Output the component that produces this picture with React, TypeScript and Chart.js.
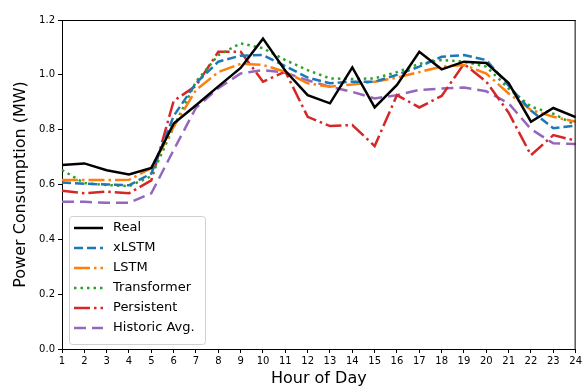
import React, { useEffect, useRef } from "react";
import { Chart, registerables } from "chart.js";

Chart.register(...registerables);

const hours = ["1","2","3","4","5","6","7","8","9","10","11","12","13","14","15","16","17","18","19","20","21","22","23","24"];

const real = [0.671, 0.677, 0.652, 0.637, 0.660, 0.822, 0.889, 0.958, 1.025, 1.132, 1.015, 0.926, 0.896, 1.027, 0.881, 0.963, 1.084, 1.020, 1.048, 1.043, 0.970, 0.829, 0.879, 0.846];
const xlstm = [0.607, 0.603, 0.600, 0.597, 0.640, 0.850, 0.970, 1.048, 1.070, 1.072, 1.032, 0.990, 0.969, 0.975, 0.975, 1.000, 1.030, 1.066, 1.072, 1.054, 0.960, 0.870, 0.805, 0.815];
const lstm = [0.616, 0.616, 0.616, 0.617, 0.660, 0.810, 0.945, 1.010, 1.040, 1.036, 1.011, 0.969, 0.957, 0.965, 0.975, 0.990, 1.010, 1.030, 1.036, 1.005, 0.932, 0.872, 0.847, 0.829];
const transformer = [0.653, 0.605, 0.598, 0.594, 0.630, 0.810, 0.975, 1.072, 1.115, 1.097, 1.054, 1.017, 0.987, 0.985, 0.987, 1.010, 1.040, 1.054, 1.048, 1.030, 0.950, 0.884, 0.858, 0.817];
const persistent = [0.577, 0.568, 0.574, 0.568, 0.615, 0.905, 0.960, 1.084, 1.084, 0.975, 1.012, 0.847, 0.813, 0.817, 0.740, 0.926, 0.881, 0.923, 1.040, 0.975, 0.862, 0.707, 0.780, 0.760];
const historic = [0.537, 0.537, 0.533, 0.533, 0.568, 0.726, 0.880, 0.951, 1.005, 1.017, 1.008, 0.980, 0.957, 0.938, 0.914, 0.926, 0.945, 0.950, 0.954, 0.940, 0.896, 0.802, 0.750, 0.748];

const seriesLabels = ["Real", "xLSTM", "LSTM", "Transformer", "Persistent", "Historic Avg."];
const yTicks = [0, 0.2, 0.4, 0.6, 0.8, 1.0, 1.2];

const FONT = "'DejaVu Sans', sans-serif";

const framePlugin = {
  id: "frame",
  afterDatasetsDraw(chart: any) {
    const { ctx, chartArea } = chart;
    ctx.save();
    ctx.strokeStyle = "#000";
    ctx.lineWidth = 1;
    ctx.beginPath();
    ctx.moveTo(chartArea.left, chartArea.top + 0.5);
    ctx.lineTo(chartArea.right, chartArea.top + 0.5);
    ctx.moveTo(chartArea.right - 0.5, chartArea.top);
    ctx.lineTo(chartArea.right - 0.5, chartArea.bottom);
    ctx.stroke();
    ctx.restore();
  },
};

const legendPlugin = {
  id: "insideLegend",
  afterDraw(chart: any) {
    const { ctx, chartArea } = chart;
    const ds = chart.data.datasets;
    const x0 = chartArea.left + 7;
    const y0 = 216;
    const w = 136;
    const rowH = 20;
    const h = 128;
    ctx.save();
    ctx.globalAlpha = 0.8;
    ctx.fillStyle = "#fff";
    ctx.beginPath();
    (ctx as any).roundRect(x0 + 0.5, y0 + 0.5, w, h, 3);
    ctx.fill();
    ctx.globalAlpha = 1;
    ctx.strokeStyle = "#d0d0d0";
    ctx.lineWidth = 1;
    ctx.stroke();
    ds.forEach((d: any, i: number) => {
      const cy = y0 + 12 + i * rowH;
      ctx.beginPath();
      ctx.setLineDash(d.borderDash || []);
      ctx.strokeStyle = d.borderColor;
      ctx.lineWidth = d.borderWidth;
      ctx.lineCap = "butt";
      ctx.moveTo(x0 + 5, cy);
      ctx.lineTo(x0 + 34, cy);
      ctx.stroke();
      ctx.setLineDash([]);
      ctx.fillStyle = "#000";
      ctx.font = `13px ${FONT}`;
      ctx.textBaseline = "middle";
      ctx.textAlign = "left";
      ctx.fillText(d.label, x0 + 44, cy);
    });
    ctx.restore();
  },
};

export default function App() {
  const ref = useRef<HTMLCanvasElement | null>(null);
  useEffect(() => {
    document.body.style.margin = "0";
    if (!ref.current) return;
    const mk = (label: string, data: number[], color: string, dash: number[]) => ({
      label,
      data,
      borderColor: color,
      backgroundColor: color,
      borderWidth: 2.5,
      borderDash: dash,
      pointRadius: 0,
      tension: 0,
      fill: false,
      borderCapStyle: "butt",
    });
    const chart = new Chart(ref.current, {
      type: "line",
      data: {
        labels: hours,
        datasets: [
          mk(seriesLabels[0], real, "#000000", []),
          mk(seriesLabels[1], xlstm, "#1f77b4", [9, 4]),
          mk(seriesLabels[2], lstm, "#ff7f0e", [16, 4, 2.5, 4]),
          mk(seriesLabels[3], transformer, "#2ca02c", [2.5, 4]),
          mk(seriesLabels[4], persistent, "#d62728", [16, 4, 2.5, 4]),
          mk(seriesLabels[5], historic, "#9467bd", [12, 6]),
        ] as any,
      },
      options: {
        responsive: false,
        animation: false,
        layout: { padding: { top: 20, right: 6, left: 0, bottom: 0 } },
        plugins: { legend: { display: false }, tooltip: { enabled: false } },
        scales: {
          x: {
            type: "category",
            offset: false,
            grid: { drawOnChartArea: false, drawTicks: true, tickLength: 4, color: "#000" },
            border: { display: true, color: "#000", width: 1 },
            ticks: { font: { family: FONT, size: 10 }, color: "#000", padding: 2, maxRotation: 0, autoSkip: false },
            title: { display: true, text: "Hour of Day", font: { family: FONT, size: 16 }, color: "#000", padding: { top: 0, bottom: 0 } },
            afterFit(scale: any) { scale.height = 39; },
          },
          y: {
            min: 0,
            max: 1.2,
            afterBuildTicks(scale: any) { scale.ticks = yTicks.map((v) => ({ value: v })); },
            grid: { drawOnChartArea: false, drawTicks: true, tickLength: 4, color: "#000" },
            border: { display: true, color: "#000", width: 1 },
            ticks: { font: { family: FONT, size: 10 }, color: "#000", padding: 3, callback: (v: any) => Number(v).toFixed(1) },
            title: { display: true, text: "Power Consumption (MW)", font: { family: FONT, size: 16 }, color: "#000", padding: { top: 11, bottom: 0 } },
            afterFit(scale: any) { scale.width = 62; },
          },
        },
      } as any,
      plugins: [framePlugin, legendPlugin],
    });
    return () => chart.destroy();
  }, []);
  return (
    <div style={{ width: 584, height: 388 }}>
      <canvas ref={ref} width={584} height={388} style={{ display: "block" }} />
    </div>
  );
}
